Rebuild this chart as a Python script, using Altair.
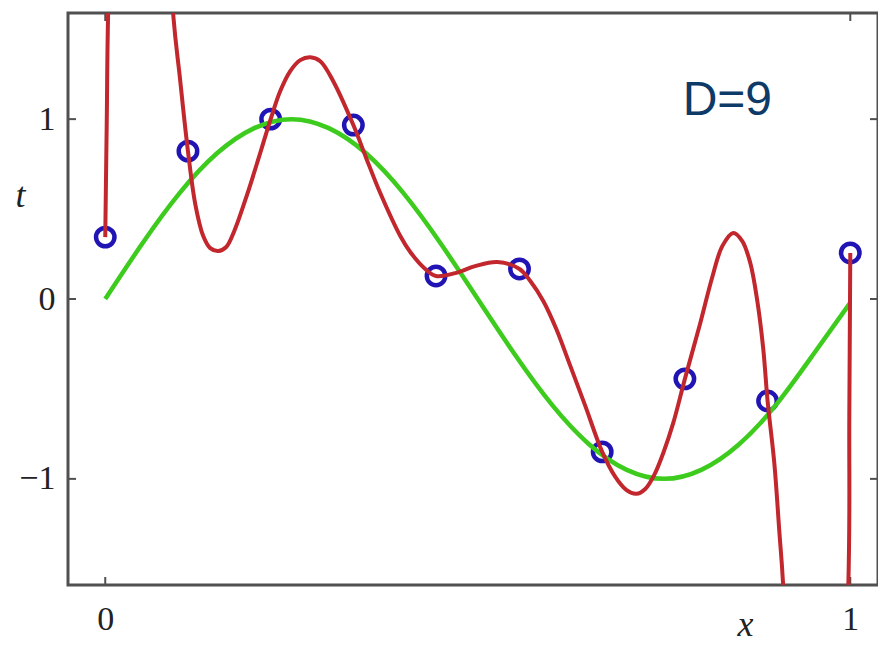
import altair as alt
import pandas as pd

# Observed data points (blue circles)
pts_x = [0.0, 0.111, 0.222, 0.333, 0.444, 0.556, 0.667, 0.778, 0.889, 1.0]
pts_t = [0.344, 0.822, 1.0, 0.967, 0.128, 0.167, -0.85, -0.444, -0.567, 0.256]

# Green curve
green_x = [0.0, 0.05, 0.1, 0.15, 0.2, 0.25, 0.3, 0.35, 0.4, 0.45, 0.5,
           0.55, 0.6, 0.65, 0.7, 0.75, 0.8, 0.85, 0.9, 0.95, 1.0]
green_t = [0.0, 0.31, 0.59, 0.81, 0.95, 1.0, 0.95, 0.81, 0.59, 0.31, 0.0,
           -0.31, -0.59, -0.81, -0.95, -1.0, -0.95, -0.81, -0.59, -0.31, -0.02]

# Red curve (D=9 fit)
red_x = [0.0, 0.002, 0.0045, 0.045, 0.0899, 0.1007, 0.111, 0.1208, 0.1315, 0.1409,
         0.1517, 0.1624, 0.1732, 0.1906, 0.2067, 0.222, 0.2349, 0.2483, 0.2617,
         0.2752, 0.2886, 0.306, 0.333, 0.3503, 0.3691, 0.396, 0.4094, 0.4295,
         0.444, 0.4698, 0.4966, 0.5262, 0.556, 0.5705, 0.5879, 0.6054, 0.6242,
         0.6443, 0.667, 0.6846, 0.6993, 0.7128, 0.7248, 0.7369, 0.749, 0.7624,
         0.778, 0.7987, 0.8148, 0.8282, 0.843, 0.855, 0.8658, 0.8752, 0.8832,
         0.889, 0.898, 0.9047, 0.9101, 0.95, 0.9973, 0.9987, 1.0]
red_t = [0.344, 0.98, 1.7, 6.0, 1.65, 1.211, 0.822, 0.528, 0.35, 0.283,
         0.267, 0.289, 0.378, 0.583, 0.794, 1.0, 1.156, 1.267, 1.328,
         1.344, 1.322, 1.211, 0.967, 0.783, 0.589, 0.35, 0.261, 0.167,
         0.128, 0.144, 0.183, 0.206, 0.167, 0.1, -0.011, -0.167, -0.372,
         -0.594, -0.85, -0.989, -1.061, -1.083, -1.056, -0.978, -0.856, -0.689,
         -0.444, -0.133, 0.122, 0.294, 0.367, 0.322, 0.2, -0.011, -0.278,
         -0.567, -0.911, -1.289, -1.606, -6.0, -1.606, -0.65, 0.256]

x_ticks = [0, 1]
y_ticks = [-1, 0, 1]

W, H = 810, 572
xdom = [-0.05, 1.0372]
ydom = [-1.59, 1.59]

pts = pd.DataFrame({"x": pts_x, "t": pts_t})
green = pd.DataFrame({"x": green_x, "t": green_t})
red = pd.DataFrame({"x": red_x, "t": red_t})
xt = pd.DataFrame({"v": x_ticks})
yt = pd.DataFrame({"v": y_ticks})

serif = "Liberation Serif"
frame_col = "#505050"

xscale = alt.Scale(domain=xdom, nice=False, zero=False)
yscale = alt.Scale(domain=ydom, nice=False, zero=False)

xaxis = alt.Axis(values=x_ticks, format="d", grid=False, domain=False, ticks=False,
                 labelFont=serif, labelFontSize=34, labelColor="#222",
                 labelPadding=17, title="x", titleFont=serif,
                 titleFontStyle="italic", titleFontWeight="normal",
                 titleFontSize=36, titleColor="#222", titleX=677, titleY=58,
                 titleBaseline="bottom", titleAlign="center")
yaxis = alt.Axis(values=y_ticks, format="d", grid=False, domain=False, ticks=False,
                 labelFont=serif, labelFontSize=34, labelColor="#222",
                 labelPadding=13, title="t", titleFont=serif,
                 titleFontStyle="italic", titleFontWeight="normal",
                 titleFontSize=36, titleColor="#222", titleAngle=0,
                 titleX=-48, titleY=182, titleBaseline="middle",
                 titleAlign="center")

circles = alt.Chart(pts).mark_point(
    shape="circle", filled=False, size=340, strokeWidth=4.5,
    color="#2114b4", opacity=1
).encode(
    x=alt.X("x:Q", scale=xscale, axis=xaxis),
    y=alt.Y("t:Q", scale=yscale, axis=yaxis),
)

green_line = alt.Chart(green).mark_line(
    color="#3dcc1e", strokeWidth=4.5, interpolate="natural", clip=True
).encode(x="x:Q", y="t:Q")

red_line = alt.Chart(red).mark_line(
    color="#c1272d", strokeWidth=4, interpolate="catmull-rom", clip=True
).encode(x="x:Q", y="t:Q")

tick_len = 8
left_ticks = alt.Chart(yt).mark_rule(color=frame_col, strokeWidth=2).encode(
    y="v:Q", x=alt.value(0), x2=alt.value(tick_len))
right_ticks = alt.Chart(yt).mark_rule(color=frame_col, strokeWidth=2).encode(
    y="v:Q", x=alt.value(W - tick_len), x2=alt.value(W))
bottom_ticks = alt.Chart(xt).mark_rule(color=frame_col, strokeWidth=2).encode(
    x="v:Q", y=alt.value(H), y2=alt.value(H - tick_len))
top_ticks = alt.Chart(xt).mark_rule(color=frame_col, strokeWidth=2).encode(
    x="v:Q", y=alt.value(0), y2=alt.value(tick_len))

label = alt.Chart(pd.DataFrame({"x": [0.835], "t": [1.1], "s": ["D=9"]})).mark_text(
    font="Liberation Sans", fontSize=48, color="#0d3a66",
    align="center", baseline="middle"
).encode(x="x:Q", y="t:Q", text="s:N")

chart = alt.layer(
    left_ticks, right_ticks, bottom_ticks, top_ticks,
    circles, green_line, red_line, label
).properties(
    width=W, height=H,
    autosize=alt.AutoSizeParams(type="none"),
    padding={"left": 60, "top": 5, "right": 0, "bottom": 58},
    background="white",
).configure_view(
    stroke=frame_col, strokeWidth=3
)

chart.save("out.html", embed_options={"renderer": "svg", "actions": False})
